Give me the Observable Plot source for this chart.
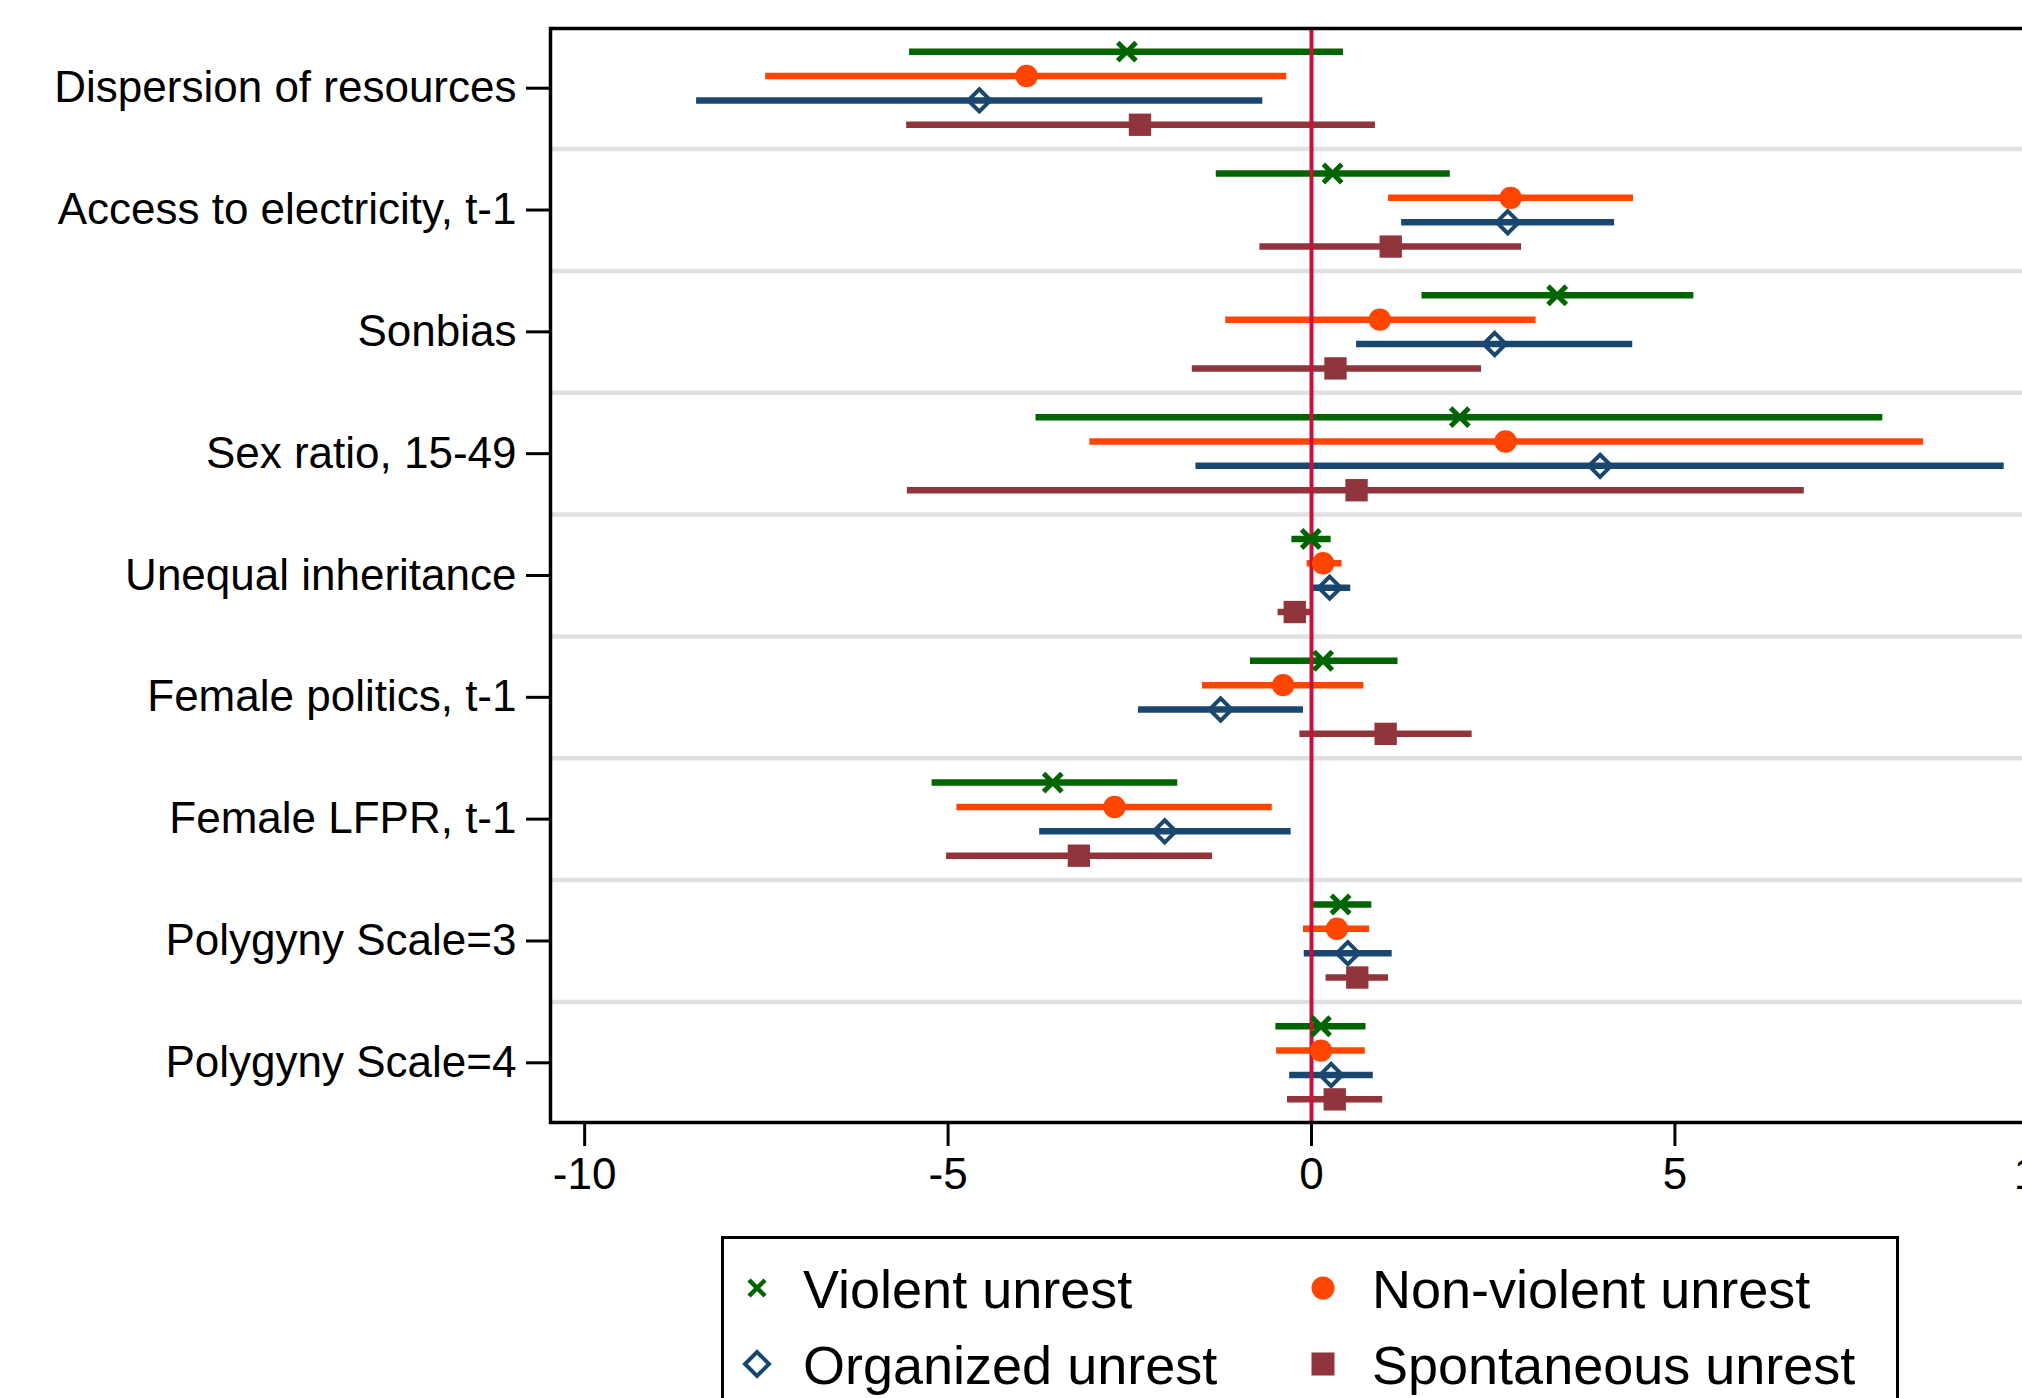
<!DOCTYPE html>
<html>
<head>
<meta charset="utf-8">
<script src="https://cdn.jsdelivr.net/npm/d3@7"></script>
<script src="https://cdn.jsdelivr.net/npm/@observablehq/plot@0.6"></script>
<style>
  html, body { margin: 0; padding: 0; background: #fff; overflow: hidden; width: 2022px; height: 1398px; }
  #chart { position: absolute; left: 0; top: 0; width: 2100px; }
  #chart svg { max-width: none !important; width: 2100px; height: 1230px; }
  #legend { position: absolute; left: 721px; top: 1236px; width: 1178px; height: 240px; border: 3px solid #000;
            box-sizing: border-box; background: #fff; font-family: "Liberation Sans", Arial, sans-serif; font-size: 54px; color: #000; }
  .mk { position: absolute; width: 40px; height: 40px; }
  .tx { position: absolute; height: 62px; line-height: 62px; white-space: nowrap; }
</style>
</head>
<body>
<div id="chart"></div>
<div id="legend"></div>
<script>
// ---------------- data ----------------
const categories = [
  "Dispersion of resources",
  "Access to electricity, t-1",
  "Sonbias",
  "Sex ratio, 15-49",
  "Unequal inheritance",
  "Female politics, t-1",
  "Female LFPR, t-1",
  "Polygyny Scale=3",
  "Polygyny Scale=4"
];
const seriesNames = ["Violent unrest", "Non-violent unrest", "Organized unrest", "Spontaneous unrest"];

const violentEst = [-2.54, 0.29, 3.38, 2.04, -0.01, 0.16, -3.56, 0.40, 0.13];
const violentLo  = [-5.53, -1.31, 1.52, -3.79, -0.27, -0.84, -5.22, -0.01, -0.49];
const violentHi  = [0.44, 1.91, 5.26, 7.86, 0.27, 1.19, -1.84, 0.83, 0.75];

const nonviolentEst = [-3.92, 2.74, 0.94, 2.67, 0.16, -0.39, -2.71, 0.35, 0.13];
const nonviolentLo  = [-7.51, 1.06, -1.18, -3.05, -0.06, -1.50, -4.88, -0.11, -0.48];
const nonviolentHi  = [-0.34, 4.43, 3.09, 8.42, 0.42, 0.72, -0.54, 0.80, 0.74];

const organizedEst = [-4.57, 2.70, 2.52, 3.97, 0.25, -1.25, -2.02, 0.50, 0.27];
const organizedLo  = [-8.46, 1.24, 0.62, -1.59, -0.01, -2.38, -3.74, -0.10, -0.30];
const organizedHi  = [-0.67, 4.17, 4.42, 9.53, 0.54, -0.11, -0.28, 1.11, 0.85];

const spontaneousEst = [-2.36, 1.09, 0.33, 0.62, -0.23, 1.02, -3.20, 0.63, 0.32];
const spontaneousLo  = [-5.57, -0.71, -1.64, -5.56, -0.46, -0.16, -5.02, 0.20, -0.33];
const spontaneousHi  = [0.88, 2.89, 2.34, 6.78, -0.01, 2.21, -1.36, 1.06, 0.98];

const xTicks = [-10, -5, 0, 5, 10];

// ---------------- styling ----------------
const colors = ["#006400", "#ff4500", "#1a476f", "#90353b"];
const zeroColor = "#c8103c";
const gridColor = "#e0e0e0";
const font = '"Liberation Sans", Arial, sans-serif';

// ---------------- build table ----------------
const estimates = [violentEst, nonviolentEst, organizedEst, spontaneousEst];
const lows = [violentLo, nonviolentLo, organizedLo, spontaneousLo];
const highs = [violentHi, nonviolentHi, organizedHi, spontaneousHi];
const slots = seriesNames.length + 1; // 4 rows + 1 gap per category

const rows = [];
categories.forEach((cat, g) => {
  seriesNames.forEach((s, k) => {
    rows.push({cat, series: s, k, pos: g * slots + k, est: estimates[k][g], lo: lows[k][g], hi: highs[k][g]});
  });
});
const groupCenters = categories.map((_, g) => g * slots + (seriesNames.length - 1) / 2);
const gridPos = categories.slice(1).map((_, g) => g * slots + seriesNames.length);
const labelFor = d => categories[Math.round((d - (seriesNames.length - 1) / 2) / slots)];

const bySeries = k => rows.filter(d => d.k === k);

const dotStyles = [
  {symbol: "times", r: 8.4, stroke: colors[0], strokeWidth: 5, fill: "none"},
  {symbol: "circle", r: 11.2, fill: colors[1], stroke: "none"},
  {symbol: "diamond2", r: 10.0, fill: "none", stroke: colors[2], strokeWidth: 4},
  {symbol: "square", r: 12.6, fill: colors[3], stroke: "none"}
];

const chart = Plot.plot({
  width: 2100,
  height: 1230,
  marginLeft: 550,
  marginRight: 28,
  marginTop: 28,
  marginBottom: 108,
  x: {domain: [-10.47, 10.47]},
  y: {domain: [-0.95, 43.95], reverse: true},
  style: {fontFamily: font, fontSize: "44px", color: "#000", background: "transparent", overflow: "visible", maxWidth: "none"},
  marks: [
    Plot.ruleY(gridPos, {stroke: gridColor, strokeWidth: 4.5}),
    ...seriesNames.map((_, k) => Plot.ruleY(bySeries(k), {y: "pos", x1: "lo", x2: "hi", stroke: colors[k], strokeWidth: 6.5})),
    Plot.ruleX([0], {stroke: zeroColor, strokeWidth: 4}),
    ...seriesNames.map((_, k) => Plot.dot(bySeries(k), {x: "est", y: "pos", ...dotStyles[k]})),
    Plot.frame({stroke: "#000", strokeWidth: 3.5}),
    Plot.axisX({ticks: xTicks, tickFormat: d => String(d), tickSize: 24, tickPadding: 11, strokeWidth: 3, label: null}),
    Plot.axisY({ticks: groupCenters, tickFormat: labelFor, tickSize: 24, tickPadding: 10, strokeWidth: 3, label: null})
  ]
});
document.getElementById("chart").appendChild(chart);

// ---------------- legend ----------------
const legend = d3.select("#legend");
const legendPos = [
  {mx: 33, tx: 79, cy: 49},
  {mx: 599, tx: 648, cy: 49},
  {mx: 33, tx: 79, cy: 125},
  {mx: 599, tx: 648, cy: 125}
];
const legendDraw = [
  g => g.append("path").attr("d", "M-8,-8L8,8M-8,8L8,-8").attr("stroke", colors[0]).attr("stroke-width", 4.5).attr("fill", "none"),
  g => g.append("circle").attr("r", 11.5).attr("fill", colors[1]),
  g => g.append("path").attr("d", "M0,-12L12,0L0,12L-12,0Z").attr("stroke", colors[2]).attr("stroke-width", 4).attr("fill", "none"),
  g => g.append("rect").attr("x", -11.5).attr("y", -11.5).attr("width", 23).attr("height", 23).attr("fill", colors[3])
];
seriesNames.forEach((name, k) => {
  const p = legendPos[k];
  const svg = legend.append("svg").attr("class", "mk")
    .style("left", (p.mx - 20) + "px").style("top", (p.cy - 20) + "px")
    .attr("viewBox", "-20 -20 40 40");
  legendDraw[k](svg.append("g"));
  legend.append("div").attr("class", "tx")
    .style("left", p.tx + "px").style("top", (p.cy - 31 + 1) + "px")
    .text(name);
});
</script>
</body>
</html>
